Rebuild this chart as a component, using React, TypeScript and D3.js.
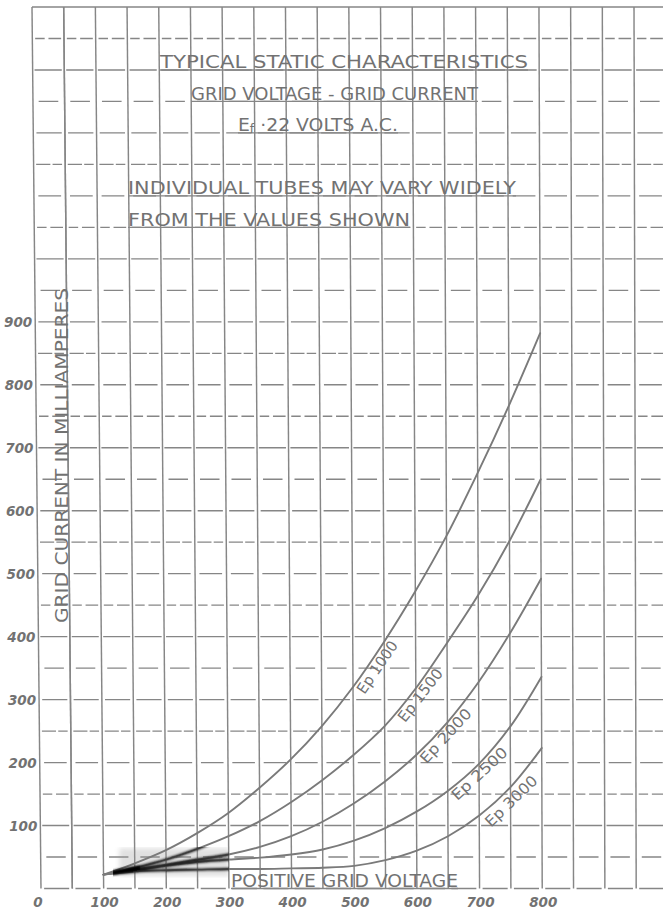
import React, { useEffect } from "react";
import * as d3 from "d3";

// ---- data ----
const gridVoltage = [100, 150, 200, 250, 300, 350, 400, 450, 500, 550, 600, 650, 700, 750, 800];
const ep1000 = [22, 40, 61, 88, 120, 160, 205, 258, 320, 392, 472, 560, 660, 767, 882];
const ep1500 = [22, 33, 46, 63, 83, 107, 137, 172, 212, 258, 318, 390, 466, 552, 650];
const ep2000 = [22, 30, 38, 46, 54, 66, 83, 106, 135, 170, 212, 264, 328, 405, 492];
const ep2500 = [22, 29, 36, 42, 46, 49, 54, 62, 76, 96, 122, 155, 198, 257, 336];
const ep3000 = [22, 27, 29, 30, 31, 31, 32, 33, 36, 45, 60, 83, 116, 161, 223];
const seriesNames = ["Ep 1000", "Ep 1500", "Ep 2000", "Ep 2500", "Ep 3000"];
const seriesValues = [ep1000, ep1500, ep2000, ep2500, ep3000];

const xTickLabels = [0, 100, 200, 300, 400, 500, 600, 700, 800];
const yTickLabels = [100, 200, 300, 400, 500, 600, 700, 800, 900];

const titleLines = [
  "TYPICAL STATIC CHARACTERISTICS",
  "GRID VOLTAGE - GRID CURRENT",
  "VOLTS",
  "INDIVIDUAL TUBES MAY VARY WIDELY",
  "FROM THE VALUES SHOWN",
];
const yAxisTitle = "GRID CURRENT IN MILLIAMPERES";
const xAxisTitle = "POSITIVE GRID VOLTAGE";

// ---- layout / style (not data) ----
const labelLayout = [
  { u0: 500, span: 50, dy: 14, len: 60 },
  { u0: 565, span: 50, dy: 14, len: 63 },
  { u0: 600, span: 60, dy: 14, len: 68 },
  { u0: 650, span: 60, dy: 14, len: 70 },
  { u0: 700, span: 60, dy: 17, len: 66 },
];
const titleLayout = [
  { x: 160, len: 368, v: 1300 },
  { x: 191, len: 287, v: 1250 },
  { x: 238, len: 160, v: 1200 },
  { x: 128, len: 388, v: 1100 },
  { x: 128, len: 282, v: 1050 },
];
const dashPatterns = [
  [0, 0.1, 0.8, 0.1],
  [0, 0.08, 0.45, 0.07, 0.3, 0.1],
  [0, 0.14, 0.72, 0.14],
  [0, 0.09, 0.3, 0.12, 0.4, 0.09],
  [0, 0.06, 0.86, 0.08],
  [0, 0.18, 0.62, 0.2],
];

const INK = "#868686";
const TEXT = "#727272";
const FONT = "'DejaVu Sans Condensed', 'DejaVu Sans', sans-serif";

export default function App() {
  useEffect(() => {
    document.body.style.margin = "0";
    document.body.style.background = "#fff";
  }, []);

  const W = 663, H = 912;
  const xBottom = d3.scaleLinear().domain([0, 950]).range([41, 636.2]);
  const xTop = d3.scaleLinear().domain([0, 950]).range([32, 634]);
  const yScale = d3.scaleLinear().domain([0, 1400]).range([888.5, 7]);
  const px = (u: number, v: number) => {
    const t = v / 1400;
    return xBottom(u) * (1 - t) + xTop(u) * t;
  };
  const py = (v: number) => yScale(v);

  const gridU = d3.range(0, 1001, 50);
  const gridV = d3.range(0, 1401, 50);

  const lineGen = d3
    .line<[number, number]>()
    .x((d) => px(d[0], d[1]))
    .y((d) => py(d[1]))
    .curve(d3.curveCatmullRom.alpha(0.5));
  const pts = (vals: number[]) => gridVoltage.map((u, i) => [u, vals[i]] as [number, number]);
  const interp = (vals: number[]) => d3.scaleLinear().domain(gridVoltage).range(vals);

  const labelTransform = (vals: number[], u0: number, span: number) => {
    const f = interp(vals);
    const x0 = px(u0, f(u0)), y0 = py(f(u0));
    const x1 = px(u0 + span, f(u0 + span)), y1 = py(f(u0 + span));
    const ang = (Math.atan2(y1 - y0, x1 - x0) * 180) / Math.PI;
    return `translate(${x0.toFixed(2)},${y0.toFixed(2)}) rotate(${ang.toFixed(2)})`;
  };

  // smudge region (dark blurred strokes near the start of the curves)
  const sU0 = 115, sU1 = 300, sV0 = 17, sV1 = 66;
  const meanAt = (u: number) => d3.mean(seriesValues, (vals) => interp(vals)(u)) as number;
  const blobPts = [112, 125, 140, 155].map((u) => [u, meanAt(u)] as [number, number]);

  return (
    <svg
      width={W}
      height={H}
      viewBox={`0 0 ${W} ${H}`}
      style={{ position: "absolute", left: 0, top: 0, background: "#fff" }}
      fontFamily={FONT}
    >
      <defs>
        <filter id="smudgeBlur" x="-20%" y="-80%" width="140%" height="260%">
          <feGaussianBlur stdDeviation="1.3" />
        </filter>
        <filter id="hazeBlur" x="-20%" y="-80%" width="140%" height="260%">
          <feGaussianBlur stdDeviation="2.5" />
        </filter>
        <clipPath id="smudgeClip">
          <rect
            x={px(sU0, 0)}
            y={py(sV1)}
            width={px(sU1, 0) - px(sU0, 0)}
            height={py(sV0) - py(sV1)}
          />
        </clipPath>
      </defs>
      <rect x={0} y={0} width={W} height={H} fill="#fff" />

      {/* vertical grid lines */}
      <g stroke={INK} strokeWidth={1.45}>
        {gridU.map((u) => (
          <line key={`v${u}`} x1={px(u, 0)} y1={py(0)} x2={px(u, 1400)} y2={py(1400)} />
        ))}
      </g>

      {/* horizontal grid lines */}
      <g stroke={INK} strokeWidth={1.35} fill="none">
        {gridV.map((v, i) => {
          const x0 = px(0, v), x1 = px(1000, v);
          const cell = (px(950, v) - px(0, v)) / 19;
          const pat = dashPatterns[(i * 5) % dashPatterns.length].map((f) => (f * cell).toFixed(2)).join(" ");
          return (
            <line
              key={`h${v}`}
              x1={x0}
              y1={py(v)}
              x2={x1}
              y2={py(v)}
              strokeDasharray={v === 1400 ? undefined : pat}
            />
          );
        })}
      </g>

      {/* haze */}
      <g clipPath="url(#smudgeClip)">
        <rect
          x={px(sU0 + 10, 0)}
          y={py(sV1 - 2)}
          width={px(sU1, 0) - px(sU0 + 10, 0)}
          height={py(sV0 + 3) - py(sV1 - 2)}
          fill="#999"
          opacity={0.3}
          filter="url(#hazeBlur)"
        />
      </g>

      {/* curves */}
      <g fill="none" stroke="#7a7a7a" strokeWidth={1.9} strokeLinecap="round">
        {seriesValues.map((vals, i) => (
          <path key={seriesNames[i]} d={lineGen(pts(vals)) || ""} />
        ))}
      </g>

      {/* dark smudged strokes */}
      <g clipPath="url(#smudgeClip)">
        <g filter="url(#smudgeBlur)" fill="none" strokeLinecap="round">
          {seriesValues.slice(1).map((vals, i) => (
            <path key={`s${i}`} d={lineGen(pts(vals)) || ""} stroke="#111" strokeWidth={2.4} opacity={0.85} />
          ))}
          <path d={lineGen(blobPts) || ""} stroke="#000" strokeWidth={5} />
        </g>
      </g>

      {/* curve labels */}
      <g fill={TEXT} fontSize={15}>
        {seriesValues.map((vals, i) => {
          const L = labelLayout[i];
          return (
            <text
              key={`l${i}`}
              transform={labelTransform(vals, L.u0, L.span)}
              y={L.dy}
              textLength={L.len}
              lengthAdjust="spacingAndGlyphs"
            >
              {seriesNames[i]}
            </text>
          );
        })}
      </g>

      {/* titles */}
      <g fill={TEXT} fontSize={18}>
        {titleLines.map((t, i) => {
          const T = titleLayout[i];
          const y = py(T.v);
          return (
            <g key={`t${i}`}>
              <line x1={T.x} x2={T.x + T.len} y1={y} y2={y} stroke={INK} strokeWidth={1.35} />
              {i === 2 ? (
                <text x={T.x} y={y - 1.5} textLength={T.len} lengthAdjust="spacingAndGlyphs">
                  E<tspan fontSize={12} dy={2}>f</tspan>
                  <tspan dy={-2}>{" ·22 " + t + " A.C."}</tspan>
                </text>
              ) : (
                <text x={T.x} y={y - 1.5} textLength={T.len} lengthAdjust="spacingAndGlyphs">
                  {t}
                </text>
              )}
            </g>
          );
        })}
      </g>

      {/* axis titles */}
      <g fill={TEXT} fontSize={18}>
        <line x1={px(50, 0)} y1={py(0)} x2={px(50, 1400)} y2={py(1400)} stroke={INK} strokeWidth={1.45} />
        <text
          transform={`translate(${(px(50, 520) - 1.5).toFixed(2)},623) rotate(-90)`}
          textLength={335}
          lengthAdjust="spacingAndGlyphs"
        >
          {yAxisTitle}
        </text>
        <line x1={231} x2={458} y1={py(0)} y2={py(0)} stroke={INK} strokeWidth={1.35} />
        <text x={231} y={py(0) - 1.5} textLength={227} lengthAdjust="spacingAndGlyphs">
          {xAxisTitle}
        </text>
      </g>

      {/* tick labels */}
      <g fill={TEXT} fontSize={13.5} fontStyle="italic" fontWeight="bold" fontFamily="'DejaVu Sans', sans-serif">
        {yTickLabels.map((v) => (
          <text key={`yt${v}`} x={px(0, v) - 3} y={py(v) + 5} textAnchor="end">
            {v}
          </text>
        ))}
        {xTickLabels.map((u) => (
          <text key={`xt${u}`} x={px(u, 0) + (u === 0 ? -3 : 1)} y={907} textAnchor="middle">
            {u}
          </text>
        ))}
      </g>
    </svg>
  );
}
